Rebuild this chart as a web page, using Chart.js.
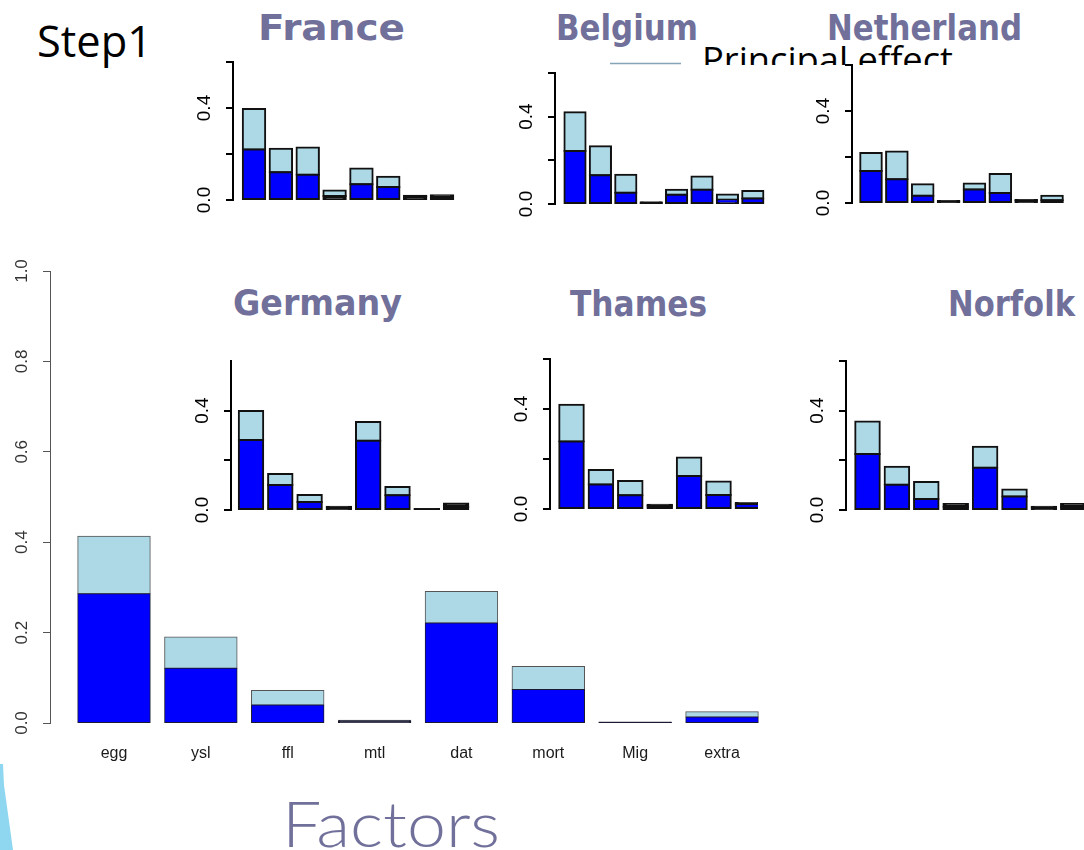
<!DOCTYPE html>
<html>
<head>
<meta charset="utf-8">
<script src="https://cdn.jsdelivr.net/npm/chart.js@4.4.1/dist/chart.umd.min.js"></script>
<style>
html,body{margin:0;padding:0;background:#fff;}
#page{position:relative;width:1084px;height:850px;overflow:hidden;background:#fff;}
#deco{position:absolute;left:0;top:0;}
canvas{position:absolute;}
</style>
</head>
<body>
<div id="page">
<svg id="deco" width="1084" height="850" xmlns="http://www.w3.org/2000/svg">
  <defs>
    <clipPath id="peClip"><rect x="600" y="20" width="420" height="45"/></clipPath>
  </defs>
  <polygon points="0,764 3,764 4,785 13,850 0,850" fill="#8fd7f0"/>
  <text x="37" y="57" font-family="Open Sans" font-size="43" fill="#000" textLength="115" lengthAdjust="spacingAndGlyphs">Step1</text>
  <g font-family="DejaVu Sans" font-weight="bold" font-size="36" fill="#70709b">
    <text x="258" y="40" textLength="147" lengthAdjust="spacingAndGlyphs">France</text>
    <text x="556" y="40" textLength="142" lengthAdjust="spacingAndGlyphs">Belgium</text>
    <text x="827" y="40" textLength="195" lengthAdjust="spacingAndGlyphs">Netherland</text>
    <text x="233" y="315" textLength="169" lengthAdjust="spacingAndGlyphs">Germany</text>
    <text x="570" y="316" textLength="137" lengthAdjust="spacingAndGlyphs">Thames</text>
    <text x="948" y="316" textLength="127" lengthAdjust="spacingAndGlyphs">Norfolk</text>
  </g>
  <line x1="610" y1="63.5" x2="681" y2="63.5" stroke="#86a4b8" stroke-width="1.5"/>
  <text x="702" y="72" clip-path="url(#peClip)" font-family="Open Sans" font-size="35" fill="#000" textLength="251" lengthAdjust="spacingAndGlyphs">Principal effect</text>
  <text x="282" y="847" font-family="Lato" font-weight="300" font-size="64" fill="#70709b" textLength="218" lengthAdjust="spacingAndGlyphs">Factors</text>
</svg>
<canvas id="cMain"></canvas>
<canvas id="cFrance"></canvas>
<canvas id="cBelgium"></canvas>
<canvas id="cNetherland"></canvas>
<canvas id="cGermany"></canvas>
<canvas id="cThames"></canvas>
<canvas id="cNorfolk"></canvas>
</div>
<script>
// ---------- data ----------
const categories = ['egg', 'ysl', 'ffl', 'mtl', 'dat', 'mort', 'Mig', 'extra'];

const mainPrincipal = [0.286, 0.121, 0.040, 0.004, 0.221, 0.074, 0.001, 0.013];
const mainTotal     = [0.413, 0.190, 0.072, 0.006, 0.291, 0.125, 0.002, 0.025];

const francePrincipal = [0.220, 0.121, 0.110, 0.017, 0.069, 0.057, 0.016, 0.012];
const franceTotal     = [0.396, 0.223, 0.228, 0.041, 0.137, 0.101, 0.019, 0.021];

const belgiumPrincipal = [0.243, 0.132, 0.052, 0.004, 0.042, 0.065, 0.020, 0.025];
const belgiumTotal     = [0.420, 0.265, 0.134, 0.008, 0.065, 0.126, 0.043, 0.060];

const netherlandPrincipal = [0.139, 0.103, 0.031, 0.007, 0.059, 0.044, 0.011, 0.012];
const netherlandTotal     = [0.217, 0.224, 0.082, 0.009, 0.085, 0.126, 0.013, 0.031];

const germanyPrincipal = [0.282, 0.101, 0.032, 0.010, 0.279, 0.059, 0.003, 0.012];
const germanyTotal     = [0.399, 0.145, 0.060, 0.013, 0.354, 0.093, 0.004, 0.026];

const thamesPrincipal = [0.270, 0.098, 0.055, 0.013, 0.132, 0.056, 0.020, null];
const thamesTotal     = [0.417, 0.156, 0.112, 0.017, 0.206, 0.110, 0.024, null];

const norfolkPrincipal = [0.226, 0.102, 0.044, 0.013, 0.170, 0.054, 0.010, 0.013];
const norfolkTotal     = [0.356, 0.174, 0.113, 0.024, 0.255, 0.083, 0.013, 0.024];

const mainTicks      = [0, 0.2, 0.4, 0.6, 0.8, 1.0];
const mainTickLabels = ['0.0', '0.2', '0.4', '0.6', '0.8', '1.0'];
const insetTicks      = [0, 0.2, 0.4, 0.6];
const insetTickLabels = ['0.0', '', '0.4', ''];
const germanyTicks      = [0, 0.2, 0.4];
const germanyTickLabels = ['0.0', '', '0.4'];

// ---------- styles ----------
const BLUE = '#0000ff';
const LIGHT = '#add8e6';
const FONT = "'Liberation Sans', Arial, sans-serif";

function buildChart(id, cfg) {
  const cv = document.getElementById(id);
  const cl = cfg.axisX - cfg.axisW;
  const ct = cfg.yTop - cfg.padTop;
  const cw = cfg.right - cl;
  const ch = cfg.y0 + cfg.xAxisH + cfg.padBottom - ct;
  cv.width = cw; cv.height = ch;
  Object.assign(cv.style, {left: cl + 'px', top: ct + 'px', width: cw + 'px', height: ch + 'px'});

  const xmin = (cfg.axisX - cfg.c0) / cfg.slot;
  const xmax = (cfg.right - cfg.c0) / cfg.slot;
  const pxPerUnit = (cfg.y0 - cfg.yTop) / cfg.yMax;
  const interaction = cfg.total.map((t, i) =>
    (t == null || cfg.principal[i] == null) ? null : Math.max(0, t - cfg.principal[i]));

  // very thin segments are drawn as solid outline colour (as R's thick outline does)
  const fill = (normal) => (ctx) => {
    const v = ctx.raw && ctx.raw.y;
    if (v == null) return normal;
    return v * pxPerUnit < cfg.tinyPx ? cfg.barBorder : normal;
  };

  const common = {
    borderWidth: cfg.barBorderW,
    borderSkipped: false,
    barPercentage: 1 / 1.2,
    categoryPercentage: 1,
    inflateAmount: cfg.inflate
  };

  new Chart(cv, {
    type: 'bar',
    data: {
      datasets: [
        Object.assign({
          label: 'Principal effect',
          data: cfg.principal.map((v, i) => ({x: i, y: v})),
          backgroundColor: fill(BLUE),
          borderColor: cfg.barBorder
        }, common),
        Object.assign({
          label: 'Interaction',
          data: interaction.map((v, i) => ({x: i, y: v})),
          backgroundColor: fill(LIGHT),
          borderColor: cfg.barBorder2 || cfg.barBorder
        }, common)
      ]
    },
    options: {
      responsive: false,
      animation: false,
      devicePixelRatio: 1,
      layout: {padding: {left: 0, right: 0, top: cfg.padTop, bottom: cfg.padBottom}},
      plugins: {legend: {display: false}, tooltip: {enabled: false}, title: {display: false}},
      scales: {
        x: {
          type: 'linear',
          offset: false,
          stacked: true,
          min: xmin,
          max: xmax,
          afterBuildTicks: s => { s.ticks = categories.map((_, i) => ({value: i})); },
          afterFit: s => { s.height = cfg.xAxisH; s.paddingLeft = 0; s.paddingRight = 0; },
          grid: {display: false, drawTicks: false, offset: false},
          border: {display: false},
          ticks: {
            display: cfg.showX,
            autoSkip: false,
            maxRotation: 0,
            minRotation: 0,
            padding: cfg.xPad || 0,
            color: '#1a1a1a',
            font: {family: FONT, size: 16},
            callback: (v, i) => categories[i]
          }
        },
        y: {
          stacked: true,
          min: 0,
          max: cfg.yMax,
          afterBuildTicks: s => { s.ticks = cfg.ticks.map(v => ({value: v})); },
          afterFit: s => { s.width = cfg.axisW; s.paddingTop = 0; s.paddingBottom = 0; },
          border: {display: true, color: cfg.axisColor, width: cfg.axisLineW},
          grid: {
            display: true,
            drawOnChartArea: false,
            drawTicks: true,
            tickLength: 7,
            color: cfg.axisColor,
            lineWidth: cfg.axisLineW
          },
          ticks: {
            minRotation: 90,
            maxRotation: 90,
            crossAlign: 'center',
            padding: cfg.yPad,
            color: cfg.tickColor,
            font: {family: FONT, size: cfg.tickSize},
            callback: (v, i) => cfg.tickLabels[i]
          }
        }
      }
    }
  });
}

const insetStyle = {
  axisW: 45, padTop: 8, padBottom: 16, xAxisH: 0, showX: false,
  barBorder: '#111', barBorderW: 2, inflate: 1, tinyPx: 4,
  axisColor: '#000', axisLineW: 2,
  tickColor: '#000', tickSize: 19, yPad: 8, yMax: 0.6,
  ticks: insetTicks, tickLabels: insetTickLabels
};

buildChart('cMain', {
  principal: mainPrincipal, total: mainTotal,
  axisX: 50, axisW: 50, y0: 723, yTop: 271, yMax: 1.0,
  c0: 114, slot: 86.86, right: 790,
  padTop: 14, padBottom: 5, xAxisH: 40, showX: true, xPad: 21,
  barBorder: '#1a1a33', barBorder2: '#555', barBorderW: 1, inflate: 0.5, tinyPx: 3,
  axisColor: '#555', axisLineW: 1,
  tickColor: '#333', tickSize: 17, yPad: 9,
  ticks: mainTicks, tickLabels: mainTickLabels
});

buildChart('cFrance', Object.assign({}, insetStyle, {
  principal: francePrincipal, total: franceTotal,
  axisX: 233, y0: 200, yTop: 62, c0: 254, slot: 26.86, right: 470
}));
buildChart('cBelgium', Object.assign({}, insetStyle, {
  principal: belgiumPrincipal, total: belgiumTotal,
  axisX: 555, y0: 204, yTop: 73, c0: 575, slot: 25.4, right: 785
}));
buildChart('cNetherland', Object.assign({}, insetStyle, {
  principal: netherlandPrincipal, total: netherlandTotal,
  axisX: 852, y0: 203, yTop: 65, c0: 871, slot: 25.86, right: 1084
}));
buildChart('cGermany', Object.assign({}, insetStyle, {
  principal: germanyPrincipal, total: germanyTotal,
  axisX: 231, y0: 510, yTop: 361, c0: 251, slot: 29.3, right: 480,
  ticks: germanyTicks, tickLabels: germanyTickLabels
}));
buildChart('cThames', Object.assign({}, insetStyle, {
  principal: thamesPrincipal, total: thamesTotal,
  axisX: 550, y0: 509, yTop: 359, c0: 571.5, slot: 29.4, right: 758
}));
buildChart('cNorfolk', Object.assign({}, insetStyle, {
  principal: norfolkPrincipal, total: norfolkTotal,
  axisX: 846, y0: 510, yTop: 361, c0: 867.5, slot: 29.4, right: 1084
}));
</script>
</body>
</html>
